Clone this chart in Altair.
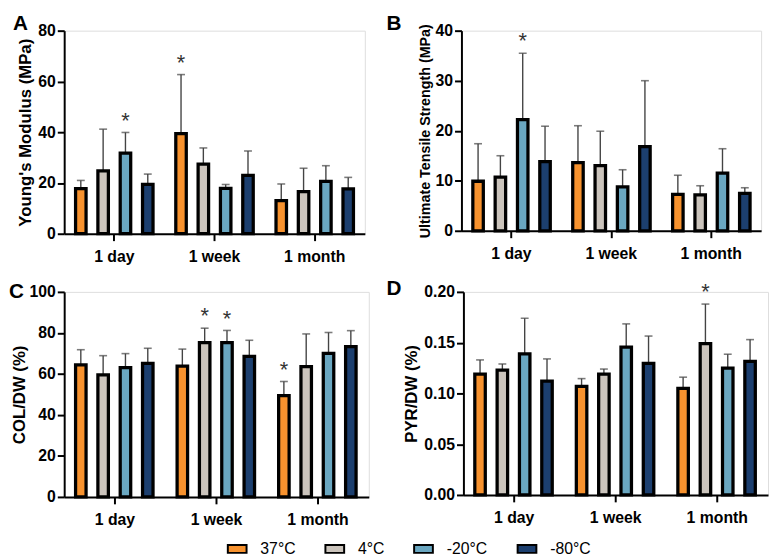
import altair as alt
import pandas as pd

times = ["1 day", "1 week", "1 month"]
temps = ["37°C", "4°C", "-20°C", "-80°C"]
colors = ["#F7922E", "#CBC4BC", "#6AA7C1", "#1C3F6F"]

ym_mean = [17.8, 24.8, 31.8, 19.4, 39.4, 27.4, 17.9, 23.0, 13.0, 16.6, 20.6, 17.7]
ym_upper = [21.0, 41.2, 39.9, 23.5, 62.7, 33.8, 19.4, 32.6, 19.6, 25.8, 26.8, 22.2]
ym_star = [0, 0, 1, 0, 1, 0, 0, 0, 0, 0, 0, 0]

uts_mean = [9.9, 10.7, 22.2, 13.8, 13.6, 13.0, 8.8, 16.8, 7.3, 7.2, 11.5, 7.5]
uts_upper = [17.4, 15.0, 35.5, 20.9, 21.0, 19.9, 12.2, 30.0, 11.1, 9.0, 16.4, 8.6]
uts_star = [0, 0, 1, 0, 0, 0, 0, 0, 0, 0, 0, 0]

col_mean = [64.4, 59.5, 63.1, 65.1, 63.8, 75.3, 75.2, 68.6, 49.4, 63.5, 70.0, 73.3]
col_upper = [71.8, 68.9, 69.9, 72.5, 72.1, 82.3, 81.2, 76.4, 56.3, 79.5, 80.2, 81.1]
col_star = [0, 0, 0, 0, 0, 1, 1, 0, 1, 0, 0, 0]

pyr_mean = [0.119, 0.123, 0.139, 0.112, 0.107, 0.119, 0.1455, 0.1295, 0.105, 0.149, 0.125, 0.1315]
pyr_upper = [0.133, 0.129, 0.174, 0.134, 0.1146, 0.124, 0.1685, 0.1565, 0.116, 0.188, 0.1386, 0.153]
pyr_star = [0, 0, 0, 0, 0, 0, 0, 0, 0, 1, 0, 0]

FONT = "Liberation Sans"


def make_df(mean, upper, star):
    rows = []
    i = 0
    for t in times:
        for c in temps:
            rows.append({"time": t, "temp": c, "value": mean[i], "upper": upper[i], "star": star[i]})
            i += 1
    return pd.DataFrame(rows)


def panel(letter, mean, upper, star, ticks, fmt, ytitle, width, height,
          letter_dx, letter_dy, title_size=17, title_pad=3):
    df = make_df(mean, upper, star)
    xenc = alt.X("time:N", sort=times,
                 scale=alt.Scale(paddingInner=0, paddingOuter=0),
                 axis=alt.Axis(title=None, labelAngle=0, labelFontSize=16,
                               labelFontWeight="bold", labelFont=FONT, labelColor="black",
                               tickSize=7, tickWidth=2, tickColor="black",
                               domainWidth=2, domainColor="black", labelPadding=8))
    xoff = alt.XOffset("temp:N", sort=temps,
                       scale=alt.Scale(paddingInner=0.53, paddingOuter=0.51))
    yscale = alt.Scale(domain=[ticks[0], ticks[-1]], nice=False)
    yaxis = alt.Axis(values=ticks, format=fmt, title=ytitle, titleFontSize=title_size,
                     titleFontWeight="bold", titleFont=FONT, titleColor="black",
                     labelFontSize=16, labelFontWeight="bold", labelFont=FONT,
                     labelColor="black", tickSize=7, tickWidth=2, tickColor="black",
                     domainWidth=2, domainColor="black", labelPadding=2,
                     titlePadding=title_pad, grid=False)
    base = alt.Chart(df).encode(x=xenc, xOffset=xoff)
    err = base.mark_rule(color="#444444", strokeWidth=1.4).encode(
        y=alt.Y("value:Q", scale=yscale, axis=yaxis), y2="upper:Q")
    cap = base.mark_tick(color="#444444", thickness=1.6, size=8).encode(
        y=alt.Y("upper:Q", scale=yscale))
    bars = base.mark_bar(stroke="black", strokeWidth=3.3, strokeOpacity=1).encode(
        y=alt.Y("value:Q", scale=yscale, axis=yaxis),
        stroke=alt.value("black"),
        strokeWidth=alt.value(3.3),
        color=alt.Color("temp:N", sort=temps,
                        scale=alt.Scale(domain=temps, range=colors),
                        legend=alt.Legend(title=None, orient="none", direction="horizontal",
                                          legendX=165, legendY=515,
                                          symbolType="M-1,-0.42L1,-0.42L1,0.42L-1,0.42Z",
                                          symbolSize=361, symbolStrokeColor="black",
                                          symbolStrokeWidth=2, labelFontSize=16,
                                          labelFont=FONT, labelColor="black",
                                          labelOffset=13, columnPadding=26)))
    stars = base.transform_filter("datum.star == 1").mark_text(
        text="*", fontSize=22, font=FONT, color="#333333", baseline="bottom", dy=0
    ).encode(y=alt.Y("upper:Q", scale=yscale))
    return alt.layer(err, bars, cap, stars).properties(
        width=width, height=height,
        title=alt.TitleParams(letter, anchor="start", frame="group", fontSize=21,
                              fontWeight="bold", font=FONT, color="black",
                              dx=letter_dx, dy=letter_dy, offset=0))


pA = panel("A", ym_mean, ym_upper, ym_star, [0, 20, 40, 60, 80], "d",
           "Young's Modulus (MPa)", 305, 206, -52, 11)
pB = panel("B", uts_mean, uts_upper, uts_star, [0, 10, 20, 30, 40], "d",
           "Ultimate Tensile Strength (MPa)", 304, 203, -76, 11, title_size=14.5)
pC = panel("C", col_mean, col_upper, col_star, [0, 20, 40, 60, 80, 100], "d",
           "COL/DW (%)", 309, 208, -56, 18, title_pad=1)
pD = panel("D", pyr_mean, pyr_upper, pyr_star, [0, 0.05, 0.10, 0.15, 0.20], ".2f",
           "PYR/DW (%)", 309, 206, -78, 18)

top = alt.hconcat(pA, pB, spacing=20)
bottom = alt.hconcat(pC, pD, spacing=16)
chart = alt.vconcat(top, bottom, spacing=12).properties(padding=0).configure_view(
    strokeWidth=0).configure(font=FONT)

chart.save("out.html", embed_options={"renderer": "svg", "actions": False})
